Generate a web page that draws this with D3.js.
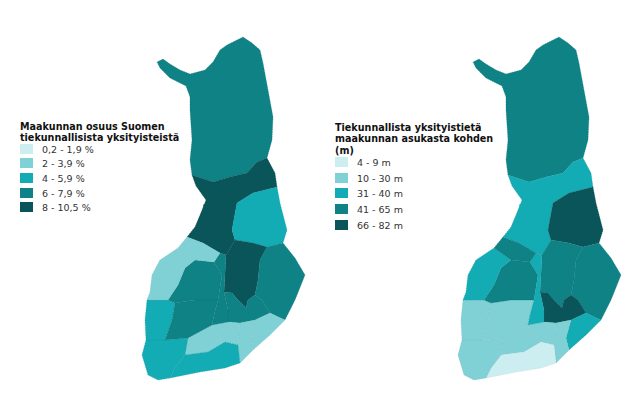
<!DOCTYPE html>
<html><head><meta charset="utf-8">
<script src="https://cdn.jsdelivr.net/npm/d3@7"></script>
<style>body{margin:0;background:#fff}</style></head>
<body><svg id="c" width="643" height="407"></svg>
<script>
const regions = ["Lappi","Pohjois-Pohjanmaa","Kainuu","Pohjois-Savo","Pohjois-Karjala","Etelä-Savo","Etelä-Karjala","Kymenlaakso","Päijät-Häme","Kanta-Häme","Uusimaa","Varsinais-Suomi","Satakunta","Pirkanmaa","Etelä-Pohjanmaa","Keski-Suomi","Pohjanmaa","Keski-Pohjanmaa"];
const shareClass = [3,4,2,4,3,3,1,1,1,1,2,2,2,3,3,3,1,1];
const metresClass = [3,2,4,3,3,4,2,1,1,1,0,1,1,1,3,2,2,3];
const shareLabels = ["0,2 - 1,9 %","2 - 3,9 %","4 - 5,9 %","6 - 7,9 %","8 - 10,5 %"];
const metresLabels = ["4 - 9 m","10 - 30 m","31 - 40 m","41 - 65 m","66 - 82 m"];
const palette = ["#cdeef1","#80d1d5","#14acb4","#0e8285","#0a5559"];

const shapes = [
 [[192,175],[190,160],[192,140],[190,110],[190,97],[186,86],[170,78],[160,68],[157,62],[163,59],[170,64],[180,70],[190,74],[205,70],[213,62],[220,50],[227,45],[243,37],[252,43],[260,50],[263,63],[268,90],[273,117],[272,140],[267,158],[257,162],[247,173],[230,177],[213,182]],
 [[192,175],[213,182],[230,177],[247,173],[257,162],[267,158],[275,173],[277,187],[253,193],[237,203],[232,230],[235,240],[226,255],[220,253],[203,243],[187,237],[195,227],[200,215],[206,200],[196,186]],
 [[277,187],[280,203],[287,230],[283,243],[267,247],[253,243],[235,240],[232,230],[237,203],[253,193]],
 [[226,255],[235,240],[253,243],[267,247],[260,260],[258,280],[255,295],[248,300],[246,308],[238,300],[232,293],[224,292]],
 [[267,247],[283,243],[295,258],[305,275],[295,300],[285,320],[270,313],[262,300],[255,295],[258,280],[260,260]],
 [[224,292],[232,293],[238,300],[246,308],[248,300],[255,295],[262,300],[270,313],[255,320],[240,323],[228,322],[228,310]],
 [[270,313],[285,320],[270,335],[253,350],[250,338],[255,320]],
 [[255,320],[250,338],[253,350],[240,363],[238,345],[240,323]],
 [[212,325],[228,322],[240,323],[238,345],[225,342],[213,333]],
 [[188,338],[212,325],[213,333],[225,342],[208,352],[185,355]],
 [[185,355],[208,352],[225,342],[238,345],[240,363],[225,368],[200,372],[170,378],[175,368]],
 [[146,340],[165,340],[188,338],[185,355],[175,368],[170,378],[158,380],[148,375],[142,355]],
 [[147,300],[168,300],[175,303],[172,320],[165,340],[146,340],[145,320]],
 [[175,303],[195,300],[218,300],[214,315],[212,325],[188,338],[165,340],[172,320]],
 [[195,260],[214,262],[222,275],[218,300],[195,300],[175,303],[168,300],[178,285],[185,268]],
 [[220,253],[226,255],[224,292],[228,310],[228,322],[212,325],[214,315],[218,300],[222,275],[214,262]],
 [[178,248],[195,260],[185,268],[178,285],[168,300],[147,300],[150,292],[152,275],[160,260]],
 [[187,237],[203,243],[220,253],[214,262],[195,260],[178,248]]
];
const island = [[203,205],[208,202],[211,207],[205,209]];

const svg = d3.select("#c");
function drawMap(offset, classes){
  const x = d3.scaleLinear().domain([0,1]).range([offset, offset+1]);
  const y = d3.scaleLinear().domain([0,1]).range([0,1]);
  const line = d3.line().x(d=>x(d[0])).y(d=>y(d[1])).curve(d3.curveLinearClosed);
  const g = svg.append("g");
  g.selectAll("path.r").data(shapes).join("path")
   .attr("d", line).attr("fill",(d,i)=>palette[classes[i]])
   .attr("stroke",(d,i)=>d3.color(palette[classes[i]]).darker(0.4)).attr("stroke-width",0.4)
   .attr("stroke-dasharray","1.5,1");
  g.append("path").attr("d", line(island)).attr("fill",palette[classes[1]]);
}
drawMap(0, shareClass);
drawMap(316, metresClass);

function legend(x0, titleLines, y0, rowsY, labels){
  const g = svg.append("g").attr("font-family","DejaVu Sans, sans-serif");
  titleLines.forEach((t,i)=>g.append("text").attr("x",x0).attr("y",y0+i*11.3)
    .attr("font-size",9.6).attr("font-weight","bold").attr("fill","#111").text(t));
  labels.forEach((l,i)=>{
    g.append("rect").attr("x",x0).attr("y",rowsY[i]-5).attr("width",13).attr("height",10).attr("fill",palette[i]);
    g.append("text").attr("x",x0+22).attr("y",rowsY[i]+4).attr("font-size",9.5).attr("fill","#333").text(l);
  });
}
legend(20, ["Maakunnan osuus Suomen","tiekunnallisista yksityisteistä"], 130, [149,163,178,193,207], shareLabels);
legend(335, ["Tiekunnallista yksityistietä","maakunnan asukasta kohden","(m)"], 131, [162,178,193,209,225], metresLabels);
</script></body></html>
